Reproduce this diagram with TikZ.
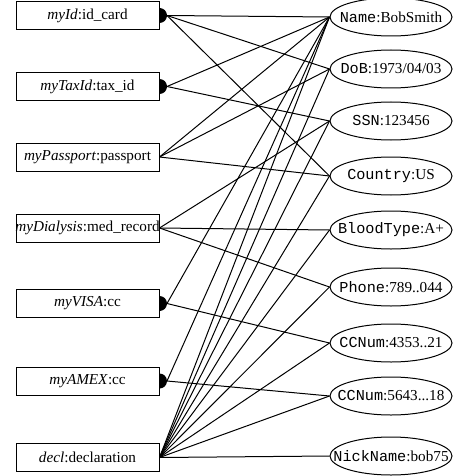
\documentclass[tikz,border=0pt]{standalone}
\usepackage{fontspec}
\setmainfont{Liberation Serif}
\setmonofont{Liberation Mono}
\usetikzlibrary{shapes.geometric,calc}
\begin{document}
\begin{tikzpicture}[x=1pt,y=-1pt]
\tikzset{
 boxn/.style={draw, line width=1pt, fill=white, minimum width=143pt, minimum height=28pt, inner sep=0pt},
 elln/.style={draw, ellipse, line width=1pt, fill=white, minimum width=122pt, minimum height=38pt, inner sep=0pt},
 lbl/.style={font=\fontsize{15.2}{17}\selectfont, inner sep=0pt},
 edg/.style={line width=1pt},
 dotn/.style={circle, fill=black, minimum size=15pt, inner sep=0pt}
}
\useasboundingbox (0,0) rectangle (455,476);
% dots (half hidden by boxes)
\node[dotn] (d1) at (159.5,15.5) {};
\node[dotn] (d2) at (159.5,86.5) {};
\node[dotn] (d5) at (159.5,303.5) {};
\node[dotn] (d6) at (159.5,381) {};
% boxes
\node[boxn] (a1) at (87.5,15.5) {};
\node[boxn] (a2) at (87.5,86.5) {};
\node[boxn] (a3) at (87.5,157) {};
\node[boxn] (a4) at (87.5,228) {};
\node[boxn] (a5) at (87.5,303.5) {};
\node[boxn] (a6) at (87.5,381) {};
\node[boxn] (a7) at (87.5,457.5) {};
\node[lbl] (t1) at (a1) {\textit{myId}:id\_card};
\node[lbl] (t2) at (a2) {\textit{myTaxId}:tax\_id};
\node[lbl] (t3) at (a3) {\textit{myPassport}:passport};
\node[lbl] (t4) at (a4) {\textit{myDialysis}:med\_record};
\node[lbl] (t5) at (a5) {\textit{myVISA}:cc};
\node[lbl] (t6) at (a6) {\textit{myAMEX}:cc};
\node[lbl] (t7) at (a7) {\textit{decl}:declaration};
% edge start points
\coordinate (s1) at ($(a1.east)+(7.5,0)$);
\coordinate (s2) at ($(a2.east)+(7.5,0)$);
\coordinate (s5) at ($(a5.east)+(7.5,0)$);
\coordinate (s6) at ($(a6.east)+(7.5,0)$);
% ellipses
\node[elln] (name) at (391,17) {};
\node[elln] (dob) at (391,69) {};
\node[elln] (ssn) at (391,121) {};
\node[elln] (cty) at (391,176) {};
\node[elln] (bt) at (391,230) {};
\node[elln] (ph) at (391,287) {};
\node[elln] (cc1) at (391,343) {};
\node[elln] (cc2) at (391,396) {};
\node[elln] (nick) at (391,456) {};
\node[lbl] (tn) at (name) {\texttt{Name}:BobSmith};
\node[lbl] (td) at (dob) {\texttt{DoB}:1973/04/03};
\node[lbl] (ts) at (ssn) {\texttt{SSN}:123456};
\node[lbl] (tc) at (cty) {\texttt{Country}:US};
\node[lbl] (tb) at (bt) {\texttt{BloodType}:A+};
\node[lbl] (tp) at (ph) {\texttt{Phone}:789..044};
\node[lbl] (tc1) at (cc1) {\texttt{CCNum}:4353..21};
\node[lbl] (tc2) at (cc2) {\texttt{CCNum}:5643...18};
\node[lbl] (tk) at (nick) {\texttt{NickName}:bob75};
% edges
\draw[edg] (s1) -- (name.west);
\draw[edg] (s1) -- (dob.west);
\draw[edg] (s1) -- (cty.west);
\draw[edg] (s2) -- (name.west);
\draw[edg] (s2) -- (ssn.west);
\draw[edg] (a3.east) -- (name.west);
\draw[edg] (a3.east) -- (dob.west);
\draw[edg] (a3.east) -- (cty.west);
\draw[edg] (a4.east) -- (ssn.west);
\draw[edg] (a4.east) -- (bt.west);
\draw[edg] (a4.east) -- (ph.west);
\draw[edg] (s5) -- (name.west);
\draw[edg] (s5) -- (cc1.west);
\draw[edg] (s6) -- (name.west);
\draw[edg] (s6) -- (cc2.west);
\foreach \t in {name,dob,ssn,cty,bt,ph,cc1,cc2,nick}
  \draw[edg] (a7.east) -- (\t.west);
\end{tikzpicture}
\end{document}
